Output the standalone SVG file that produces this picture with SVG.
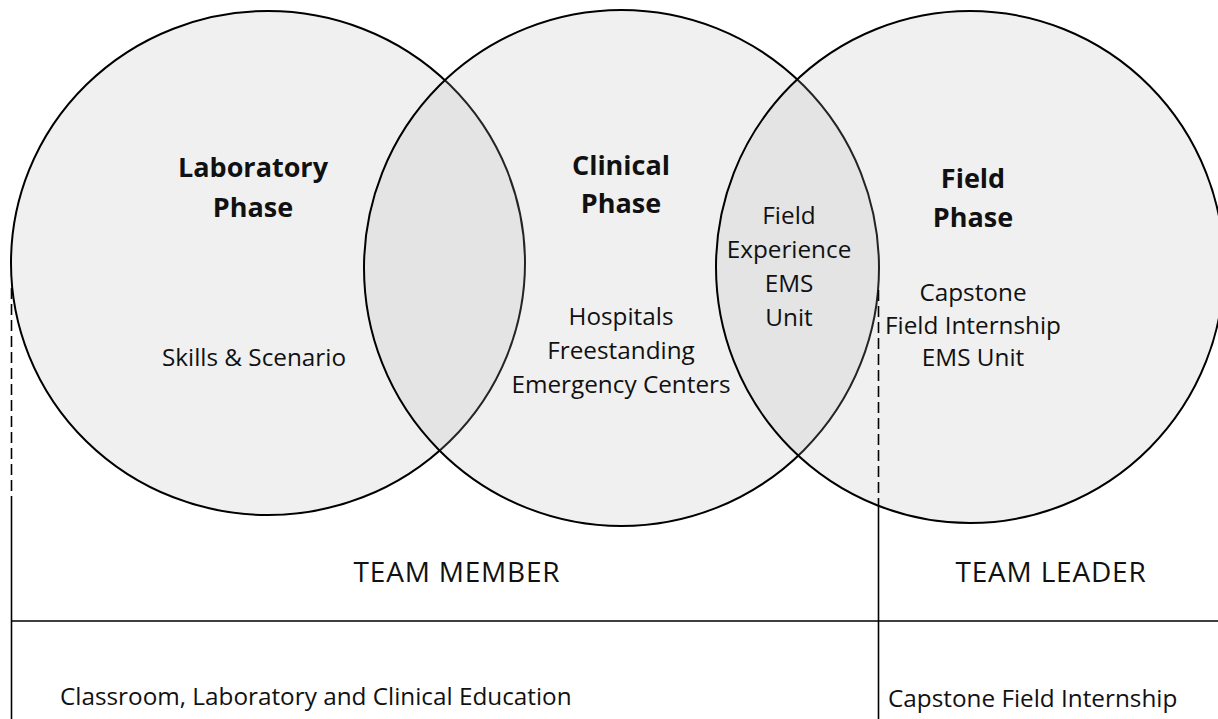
<svg xmlns="http://www.w3.org/2000/svg" width="1218" height="719" viewBox="0 0 1218 719">
<style>
.c{fill:#b4b4b4;fill-opacity:0.2;stroke:#000;stroke-width:2}
text{font-family:"Open Sans","Liberation Sans",sans-serif;font-size:24.3px;fill:#111;text-anchor:middle}
.b{font-weight:bold;font-size:27px}
.t{font-size:28px;letter-spacing:0.8px}
.l{text-anchor:start}
.ln{stroke:#000;stroke-width:1.6;fill:none}
.d{stroke-dasharray:11 5}
</style>
<rect width="1218" height="719" fill="#fff"/>
<g id="lab"><ellipse class="c" cx="268" cy="263" rx="257" ry="252"/>
<text class="b" x="253" y="177">Laboratory</text><text class="b" x="253" y="217">Phase</text>
<text x="254" y="366">Skills &amp; Scenario</text></g>
<g id="clinical"><ellipse class="c" cx="621.5" cy="268" rx="257.5" ry="258"/>
<text class="b" x="621" y="175">Clinical</text><text class="b" x="621" y="213">Phase</text>
<text x="621" y="325">Hospitals</text><text x="621" y="359">Freestanding</text><text x="621" y="393">Emergency Centers</text></g>
<g id="field"><ellipse class="c" cx="970" cy="267" rx="254" ry="256"/>
<text class="b" x="973" y="188">Field</text><text class="b" x="973" y="227">Phase</text>
<text x="973" y="301">Capstone</text><text x="973" y="334">Field Internship</text><text x="973" y="366">EMS Unit</text></g>
<g id="overlap"><text x="789" y="224">Field</text><text x="789" y="258">Experience</text><text x="789" y="292">EMS</text><text x="789" y="326">Unit</text></g>
<g id="connectors">
<line class="ln d" x1="11.5" y1="288" x2="11.5" y2="497"/>
<line class="ln" x1="11.5" y1="497" x2="11.5" y2="719"/>
<line class="ln d" x1="878.5" y1="290" x2="878.5" y2="508"/>
<line class="ln" x1="878.5" y1="508" x2="878.5" y2="719"/>
<line class="ln" x1="11" y1="621" x2="1218" y2="621"/>
</g>
<g id="labels">
<text class="t" x="457" y="582">TEAM MEMBER</text>
<text class="t" x="1051" y="582">TEAM LEADER</text>
<text class="l" x="60" y="705">Classroom, Laboratory and Clinical Education</text>
<text class="l" x="888" y="707">Capstone Field Internship</text>
</g>
</svg>
